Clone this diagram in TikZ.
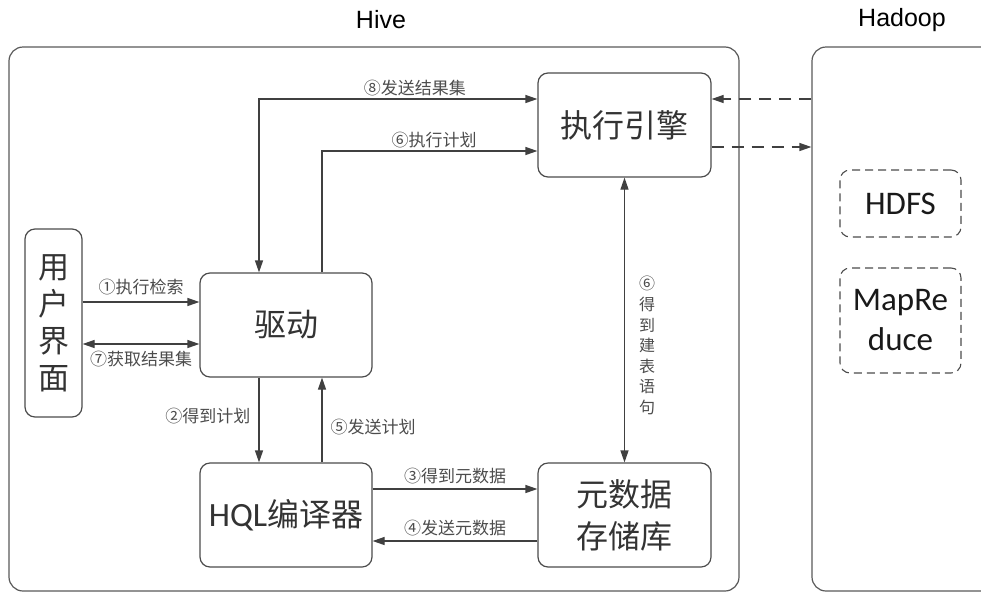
\documentclass[tikz,border=0pt]{standalone}
\usepackage{fontspec}
\setmainfont{Noto Sans CJK SC}
\newfontfamily\titlefont{Liberation Sans}
\newfontfamily\latinfont{Carlito}
\usepackage{tikz}
\usetikzlibrary{arrows.meta,shapes}

\begin{document}
\begin{tikzpicture}
[x = 1pt, y = -1pt, >= {Triangle[length = 12pt, width = 8pt]}]
\tikzset{
	container/.style = {draw = black!65, rounded corners = 14pt, line width = 1.2pt, inner sep = 0},
	module/.style = {draw = black!70, rounded corners = 10pt, line width = 1.2pt, minimum width = 172pt, minimum height = 104pt, align = center, text = black!80, font = \fontsize{32}{42}\selectfont},
	hadoopbox/.style = {draw = black!70, dash pattern = on 8pt off 5pt, rounded corners = 10pt, line width = 1.1pt, minimum width = 121pt, align = center, text = black!90, font = \latinfont\fontsize{33}{40}\selectfont},
	title/.style = {font = \titlefont\fontsize{25}{30}\selectfont, text = black},
	link/.style = {draw = black!75, line width = 1.2pt},
	dlink/.style = {link, dash pattern = on 12pt off 8pt},
	note/.style = {font = \fontsize{17}{20}\selectfont, text = black!70, inner sep = 2pt}
}
\useasboundingbox (0,0) rectangle (981,592);

\node (hive) [container, minimum width = 730pt, minimum height = 544pt] at (374,319) {};
\node (hadoop) [container, minimum width = 188pt, minimum height = 544pt] at (906,319) {};
\node (hivetitle) [title] at (381,20) {Hive};
\node (hadooptitle) [title] at (902,20) {Hadoop};

\node (ui) [module, minimum width = 57pt, minimum height = 188pt, inner sep = 0, font = \fontsize{31}{37}\selectfont] at (53.5,323) {用\\户\\界\\面};
\node (driver) [module] at (286,325) {驱动};
\node (engine) [module, minimum width = 173pt] at (624.5,125) {执行引擎};
\node (compiler) [module] at (286,515) {{\latinfont\fontsize{34}{42}\selectfont HQL}编译器};
\node (metastore) [module, minimum width = 173pt] at (624.5,515) {元数据\\存储库};

\node (hdfs) [hadoopbox, minimum height = 67pt] at (900.5,203.5) {HDFS};
\node (mapreduce) [hadoopbox, minimum height = 105pt] at (900.5,320.5) {MapRe\\duce};

\draw [link, <->] ([yshift = 26pt]engine.west) -| ([xshift = -27pt]driver.north)
	node [note, above, pos = 0.22] {⑧发送结果集};
\draw [link, ->] ([xshift = 36pt]driver.north) |- ([yshift = -26pt]engine.west)
	node [note, above, pos = 0.76] {⑥执行计划};
\draw [link, ->] ([yshift = 21pt]ui.east) -- ([yshift = 21pt]ui.east -| driver.west)
	node [note, above = 4pt, midway] {①执行检索};
\draw [link, <->] ([yshift = -21pt]ui.east) -- ([yshift = -21pt]ui.east -| driver.west)
	node [note, below = 5pt, midway] {⑦获取结果集};
\draw [link, ->] ([xshift = -27pt]driver.south) -- ([xshift = -27pt]compiler.north)
	node [note, left = 6pt, pos = 0.45] {②得到计划};
\draw [link, ->] ([xshift = 36pt]compiler.north) -- ([xshift = 36pt]driver.south)
	node [note, right = 6pt, pos = 0.42] {⑤发送计划};
\draw [link, ->] ([yshift = 26pt]compiler.east) -- ([yshift = 26pt]compiler.east -| metastore.west)
	node [note, above = 2pt, midway] {③得到元数据};
\draw [link, ->] ([yshift = -26pt]metastore.west) -- ([yshift = -26pt]metastore.west -| compiler.east)
	node [note, above = 2pt, midway] {④发送元数据};
\draw [link, <->] (engine.south) -- (metastore.north)
	node [note, right = 12pt, pos = 0.59, align = center, font = \fontsize{16}{20.6}\selectfont] {⑥\\得\\到\\建\\表\\语\\句};

\draw [dlink, ->] ([yshift = 26pt]engine.east -| hadoop.west) -- ([yshift = 26pt]engine.east);
\draw [dlink, ->] ([yshift = -22pt]engine.east) -- ([yshift = -22pt]engine.east -| hadoop.west);
\end{tikzpicture}
\end{document}
